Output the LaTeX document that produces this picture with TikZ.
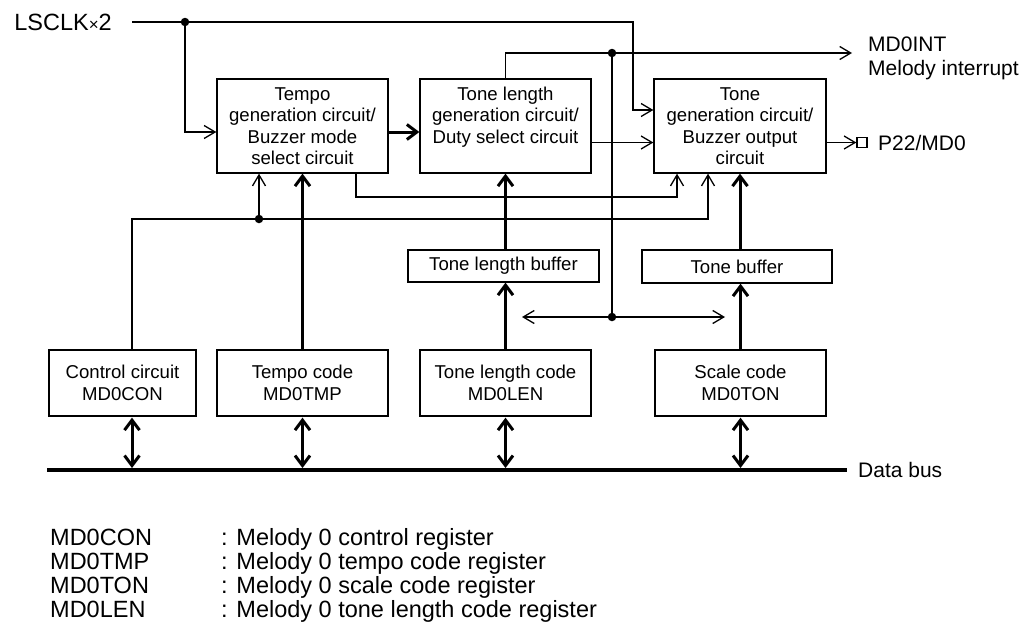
\documentclass[tikz,border=0pt]{standalone}
\usepackage{fontspec}
\setmainfont{Liberation Sans}
\usetikzlibrary{arrows.meta,calc}
\begin{document}
\begin{tikzpicture}[x=1pt,y=-1pt,
  box/.style={draw, line width=1.3pt, font=\fontsize{18.6}{21.5}\selectfont, align=center, inner sep=0pt},
  lbl/.style={font=\fontsize{21}{23.5}\selectfont, inner sep=0pt, anchor=base west},
  leg/.style={font=\fontsize{23.5}{25}\selectfont, inner sep=0pt, anchor=base west},
  dot/.style={circle, fill=black, inner sep=0pt, minimum size=8.5pt},
  thinln/.style={line width=1.3pt},
  thinarrow/.style={line width=1.3pt, -{Straight Barb[length=11pt,width=13pt]}},
  thindbl/.style={line width=1.3pt, {Straight Barb[length=11pt,width=13pt]}-{Straight Barb[length=11pt,width=13pt]}},
  thickarrow/.style={line width=3pt, -{Straight Barb[length=10pt,width=15pt]}},
  thickdbl/.style={line width=3pt, {Straight Barb[length=10pt,width=15pt]}-{Straight Barb[length=10pt,width=15pt]}, shorten >=2pt, shorten <=1pt},
]
\useasboundingbox (0,0) rectangle (1027,632);
\fill[white] (0,0) rectangle (1027,632);

% boxes
\node[box, minimum width=171pt, minimum height=94pt] (tempo) at (302.5,126) {Tempo\\generation circuit/\\Buzzer mode\\select circuit};
\node[box, minimum width=171pt, minimum height=94pt] (tonelen) at (505.5,126) {Tone length\\generation circuit/\\Duty select circuit\\\mbox{}};
\node[box, minimum width=172pt, minimum height=94pt] (tonegen) at (740,126) {Tone\\generation circuit/\\Buzzer output\\circuit};
\node[box, minimum width=191pt, minimum height=32pt] (tlbuf) at (503.5,266) {Tone length buffer};
\node[box, minimum width=190pt, minimum height=33pt] (tonebuf) at (737,266.5) {Tone buffer};
\node[box, minimum width=147pt, minimum height=66pt] (ctrl) at (122.5,383) {Control circuit\\MD0CON};
\node[box, minimum width=171pt, minimum height=66pt] (tmpcode) at (302.5,383) {Tempo code\\MD0TMP};
\node[box, minimum width=171pt, minimum height=66pt] (tlcode) at (505.5,383) {Tone length code\\MD0LEN};
\node[box, minimum width=171pt, minimum height=66pt] (scode) at (740.5,383) {Scale code\\MD0TON};
\node[draw, line width=1.3pt, minimum size=10pt, inner sep=0pt] (pin) at (862,142.5) {};

% labels
\node[lbl, anchor=base east, font=\fontsize{23.5}{25}\selectfont] (lsclk) at (112,30) {LSCLK{\fontsize{17}{17}\selectfont ×}2};
\node[lbl] (mdint) at (868,51.5) {MD0INT};
\node[lbl] (melint) at (868,75) {Melody interrupt};
\node[lbl] (p22) at (878,150) {P22/MD0};
\node[lbl] (databus) at (858,477.5) {Data bus};

% dots
\node[dot] (lsD) at (185,22) {};
\node[dot] (intD) at (612,53) {};
\node[dot] (busD) at (612,317) {};
\node[dot] (ctlD) at (259,219) {};

% helper coordinates
\coordinate (lsS) at (132,22);
\coordinate (lsE) at (633,22);
\coordinate (y110) at (0,110);
\coordinate (y132) at (0,132);
\coordinate (y142) at (0,142.5);
\coordinate (intE) at (852,53);
\coordinate (dblL) at (522,317);
\coordinate (dblR) at (725,317);
\coordinate (x356) at (356,0);
\coordinate (c677) at (677,197);
\coordinate (x132) at (132,0);
\coordinate (c708) at (708,219);
\coordinate (busL) at (47,470);
\coordinate (busR) at (847,470);

% clock
\draw[thinarrow] (lsS) -- (lsE) |- (tonegen.west |- y110);
\draw[thinarrow] (lsD.center) |- (tempo.west |- y132);
\draw[thickarrow] (tempo.east |- y132) -- (tonelen.west |- y132);
% interrupt
\draw[thinarrow] (tonelen.north) |- (intD.center) -- (intE);
\draw[thinln] (intD.center) -- (busD.center);
\draw[thindbl] (dblL) -- (dblR);
\draw[thinarrow] (tonelen.east |- y142) -- (tonegen.west |- y142);
\draw[thinarrow] (tonegen.east |- y142) -- (pin.west);
% feedback lines
\draw[thinarrow] (tempo.south -| x356) |- (c677) -- (tonegen.south -| c677);
\draw[thinarrow] (ctrl.north -| x132) |- (c708) -- (tonegen.south -| c708);
\draw[thinarrow] (ctlD.center) -- (tempo.south -| ctlD);
% thick data paths
\draw[thickarrow] (tmpcode.north) -- (tempo.south);
\draw[thickarrow] (tonelen.south |- tlbuf.north) -- (tonelen.south);
\draw[thickarrow] (tonegen.south |- tonebuf.north) -- (tonegen.south);
\draw[thickarrow] (tlcode.north) -- (tlcode.north |- tlbuf.south);
\draw[thickarrow] (scode.north) -- (scode.north |- tonebuf.south);
% bus
\draw[line width=4.3pt] (busL) -- (busR);
\draw[thickdbl] (ctrl.south -| x132) -- (x132 |- busL);
\draw[thickdbl] (tmpcode.south) -- (tmpcode.south |- busL);
\draw[thickdbl] (tlcode.south) -- (tlcode.south |- busL);
\draw[thickdbl] (scode.south) -- (scode.south |- busL);

% legend
\node[leg] (l1a) at (50,545.5) {MD0CON};
\node[leg] (l2a) at (50,569.5) {MD0TMP};
\node[leg] (l3a) at (50,593.5) {MD0TON};
\node[leg] (l4a) at (50,617.5) {MD0LEN};
\node[leg] (l1b) at (221,545.5) {: Melody 0 control register};
\node[leg] (l2b) at (221,569.5) {: Melody 0 tempo code register};
\node[leg] (l3b) at (221,593.5) {: Melody 0 scale code register};
\node[leg] (l4b) at (221,617.5) {: Melody 0 tone length code register};
\end{tikzpicture}
\end{document}
